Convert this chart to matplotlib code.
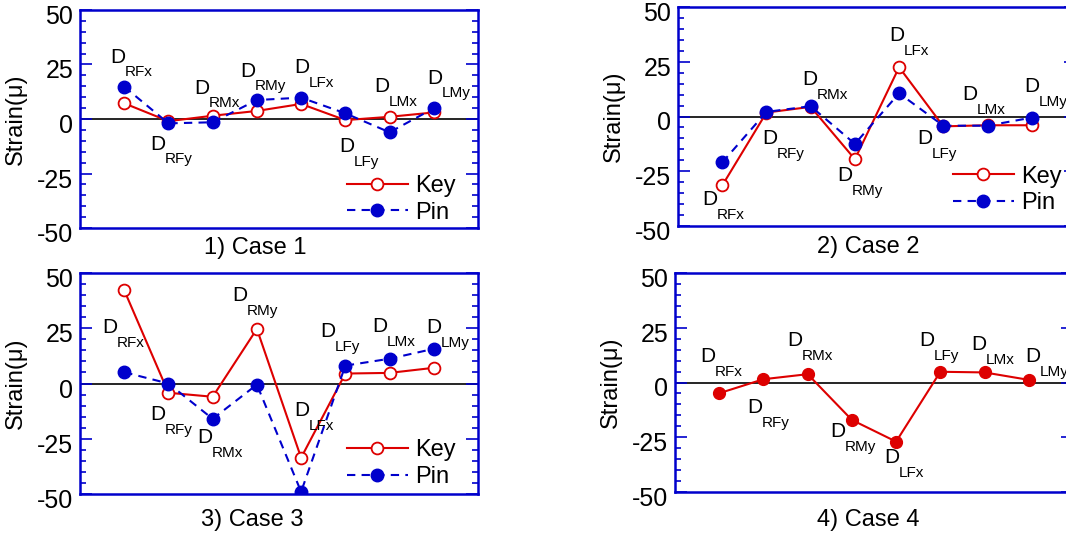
import matplotlib
matplotlib.use("Agg")
import matplotlib.pyplot as plt
from matplotlib.ticker import MultipleLocator
from matplotlib.transforms import ScaledTranslation

plt.rcParams["font.family"] = ["Liberation Sans", "DejaVu Sans"]
plt.rcParams["axes.unicode_minus"] = False

# --------------------------  Data  -------------------------------------------

SENSORS = ["RFx", "RFy", "RMx", "RMy", "LFx", "LFy", "LMx", "LMy"]
CASE_TITLES = ["1) Case 1", "2) Case 2", "3) Case 3", "4) Case 4"]

case1_key = [7.2, -1.0, 1.5, 3.7, 6.9, -0.5, 1.0, 3.0]
case1_pin = [14.8, -2.0, -1.5, 8.7, 9.8, 2.6, -6.1, 4.9]

case2_key = [-31.5, 1.8, 4.4, -19.5, 22.5, -4.5, -4.0, -4.0]
case2_pin = [-21.0, 2.1, 4.7, -12.5, 10.6, -4.2, -4.2, -0.5]

case3_key = [42.2, -4.2, -6.0, 24.7, -33.6, 4.5, 4.8, 7.1]
case3_pin = [5.1, 0.0, -16.0, -0.5, -49.0, 8.1, 11.2, 15.7]

case4_val = [-4.9, 1.5, 3.8, -17.1, -27.0, 4.9, 4.6, 1.2]

# --------------------------  Layout  -----------------------------------------

W, H = 1066, 540
RED = "#dd0000"
BLUE = "#0000cc"

# axes boxes in pixels: left, top, right, bottom
BOXES = [
    (80, 10, 478, 228),
    (678, 7, 1076, 226),
    (80, 273, 478, 494),
    (675, 273, 1073, 492),
]
# title centres in pixels
TITLE_POS = [(255, 248), (868, 247), (252, 520), (868, 520)]
# legend anchor (axes fraction) for the first three panels
LEGEND_POS = [(0.67, 0.243), (0.69, 0.276), (0.67, 0.247)]

# position of the big "D" of each label (data units)
LABELS_XY = [
    [(0.86, 28.4), (1.76, -11.5), (2.76, 14.2), (3.80, 22.0),
     (5.02, 23.4), (6.04, -12.8), (6.83, 14.7), (8.03, 18.8)],
    [(0.72, -38.0), (2.08, -10.0), (2.99, 16.8), (3.78, -27.0),
     (4.95, 36.8), (5.59, -10.0), (6.60, 10.0), (8.00, 13.6)],
    [(0.68, 25.3), (1.76, -14.0), (2.83, -24.4), (3.62, 39.8),
     (5.02, -12.2), (5.61, 23.5), (6.79, 25.8), (7.99, 25.3)],
    [(0.75, 11.9), (1.81, -11.5), (2.71, 19.3), (3.69, -22.5),
     (4.91, -34.4), (5.70, 19.3), (6.86, 17.4), (8.08, 11.9)],
]


def style_axes(ax):
    ax.set_xlim(0, 9)
    ax.set_ylim(-50, 50)
    ax.set_xticks([])
    ax.yaxis.set_major_locator(MultipleLocator(25))
    ax.yaxis.set_minor_locator(MultipleLocator(5))
    ax.tick_params(axis="y", which="both", direction="in", left=True,
                   right=True, color=BLUE, width=1.2, labelsize=18, pad=5)
    ax.tick_params(axis="y", which="major", length=8.5)
    ax.tick_params(axis="y", which="minor", length=4.5)
    for sp in ax.spines.values():
        sp.set_color(BLUE)
        sp.set_linewidth(1.8)
    ax.axhline(0, color="black", lw=1.2, zorder=1)
    ax.set_ylabel("Strain(μ)", fontsize=17, labelpad=7)
    # tick labels sit a little below their ticks in the original
    shift = ScaledTranslation(0, -0.045, ax.figure.dpi_scale_trans)
    for lab in ax.get_yticklabels():
        lab.set_transform(lab.get_transform() + shift)


def add_labels(ax, positions):
    for name, (lx, ly) in zip(SENSORS, positions):
        ax.text(lx, ly, "D", fontsize=15, ha="center", va="center", zorder=5)
        ax.annotate(name, (lx, ly), xytext=(5, -11), textcoords="offset points",
                    fontsize=11, ha="left", va="center", zorder=5)


fig = plt.figure(figsize=(W / 100, H / 100), dpi=100)
x = list(range(1, len(SENSORS) + 1))

pairs = [(case1_key, case1_pin), (case2_key, case2_pin), (case3_key, case3_pin)]

for i, (l, t, r, b) in enumerate(BOXES):
    ax = fig.add_axes([l / W, 1 - b / H, (r - l) / W, (b - t) / H])
    style_axes(ax)
    if i < 3:
        key, pin = pairs[i]
        ax.plot(x, key, "-", color=RED, lw=1.5, marker="o", ms=8.5,
                mfc="white", mec=RED, mew=1.3, label="Key", zorder=3)
        ax.plot(x, pin, "--", color=BLUE, lw=1.5, dashes=(4, 3), marker="o",
                ms=9, mfc=BLUE, mec=BLUE, label="Pin", zorder=4)
        ax.legend(loc="upper left", bbox_to_anchor=LEGEND_POS[i], frameon=False,
                  fontsize=17, handlelength=2.6, handletextpad=0.3,
                  labelspacing=0.2, borderpad=0, borderaxespad=0)
    else:
        ax.plot(x, case4_val, "-", color=RED, lw=1.5, marker="o", ms=8.5,
                mfc=RED, mec=RED, zorder=3)
    add_labels(ax, LABELS_XY[i])
    tx, ty = TITLE_POS[i]
    fig.text(tx / W, 1 - ty / H, CASE_TITLES[i], fontsize=17,
             ha="center", va="center")

fig.savefig("out.png", dpi=100)
